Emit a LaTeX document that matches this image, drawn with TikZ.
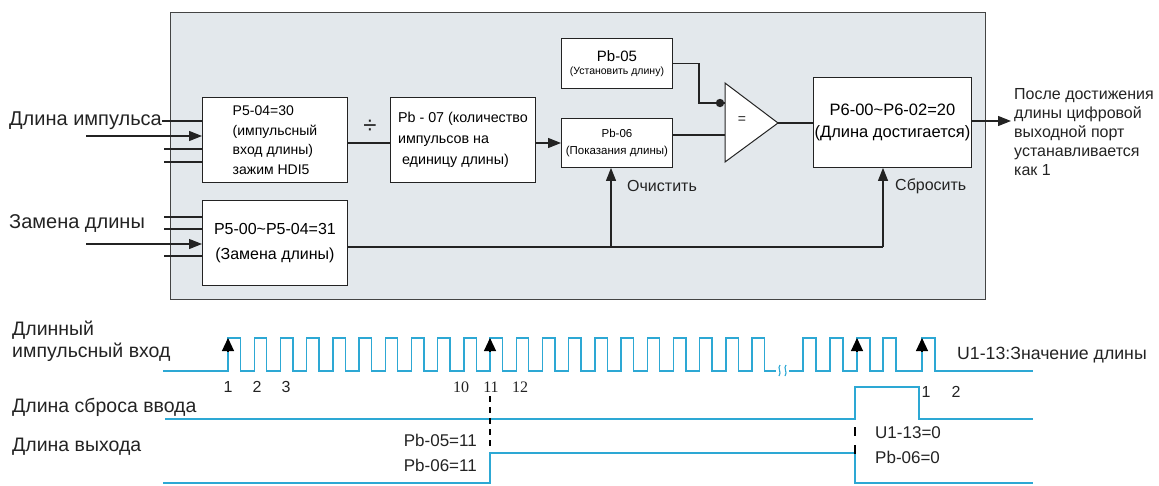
\documentclass[tikz,border=0pt]{standalone}
\usepackage{fontspec}
\setmainfont{Liberation Sans}
\newfontfamily\serifnum{Liberation Serif}
\usetikzlibrary{arrows.meta}
\definecolor{panelfill}{RGB}{227,232,236}
\definecolor{ink}{RGB}{35,35,35}
\definecolor{wave}{RGB}{45,168,212}
\tikzset{
  blk/.style={draw=ink, line width=0.9pt, fill=white, inner sep=0pt, anchor=north west},
  conn/.style={draw=ink, line width=1.1pt},
  arr/.style={conn, -{Triangle[length=13pt,width=10pt]}},
  wv/.style={draw=wave, line width=1.4pt},
  edgearrow/.style={draw=black, line width=1.2pt, -{Triangle[length=13pt,width=12pt]}},
  biglbl/.style={font=\fontsize{20}{23}\selectfont, anchor=west, inner sep=0pt, text=ink},
  midlbl/.style={font=\fontsize{16}{19}\selectfont, anchor=west, inner sep=0pt, text=ink},
  numlbl/.style={font=\fontsize{16}{18}\selectfont, inner sep=0pt, text=ink},
  sernum/.style={font=\serifnum\fontsize{16}{18}\selectfont, inner sep=0pt, text=ink},
  cutmark/.style={draw=black, line width=2.4pt},
}
\begin{document}
\begin{tikzpicture}[x=1pt,y=-1pt]
\useasboundingbox (0,0) rectangle (1159,485);
% panel
\node[draw=ink!85, line width=1pt, fill=panelfill, minimum width=815pt, minimum height=287pt, anchor=north west, inner sep=0pt] (panel) at (170,12) {};
% boxes
\node[blk, minimum width=145pt, minimum height=85pt, align=left, font=\fontsize{14}{19.5}\selectfont] (p504) at (202,97)
  {P5-04=30\\(импульсный\\вход длины)\\зажим HDI5};
\node[blk, minimum width=145pt, minimum height=85pt, align=center, font=\fontsize{16}{25}\selectfont] (p500) at (202,200)
  {P5-00\textasciitilde P5-04=31\\(Замена длины)};
\node[blk, minimum width=145pt, minimum height=85pt, align=left, font=\fontsize{14.3}{21}\selectfont] (pb07) at (390,97)
  {Pb - 07 (количество\\импульсов на\\\hspace*{4pt}единицу длины)};
\node[blk, minimum width=111pt, minimum height=49pt, align=center, font=\fontsize{11.5}{17}\selectfont] (pb06) at (561,118)
  {Pb-06\\(Показания длины)};
\node[blk, minimum width=111pt, minimum height=50pt, align=center] (pb05) at (561,38)
  {{\fontsize{15}{19}\selectfont Pb-05}\\[1pt]{\fontsize{10.5}{12}\selectfont (Установить длину)}};
\node[blk, minimum width=158pt, minimum height=90pt, align=center, font=\fontsize{16.5}{22}\selectfont] (p6) at (813,77)
  {P6-00\textasciitilde P6-02=20\\(Длина достигается)};
% comparator
\coordinate (cmpTop) at (725,83);
\coordinate (cmpBot) at (725,162);
\coordinate (cmpOut) at (778,123);
\coordinate (cmpIn1) at (725,103);
\coordinate (cmpIn2) at (725,135);
\draw[draw=ink, line width=1pt, fill=white] (cmpTop) -- (cmpOut) -- (cmpBot) -- cycle;
\node[font=\fontsize{14}{16}\selectfont, text=ink] (eq) at (742,120) {=};
% labels
\node[biglbl] (lpulse) at (9,121) {Длина импульса};
\node[biglbl] (lchange) at (9,224) {Замена длины};
\node[font=\fontsize{24}{26}\selectfont, text=ink] (div) at (370,127) {÷};
\node[midlbl] (lclr) at (627,186) {Очистить};
\node[midlbl] (lrst) at (895,186) {Сбросить};
\node[anchor=north west, inner sep=0pt, align=left, font=\fontsize{16}{19}\selectfont, text=ink] (outtxt) at (1014,88)
  {После достижения\\длины цифровой\\выходной порт\\устанавливается\\как 1};
% input lines
\coordinate (inA1) at (lpulse.east);
\coordinate (inA2) at (86,136);
\coordinate (inA3) at (164,149);
\coordinate (inA4) at (164,162);
\draw[conn] (inA1) -- (inA1 -| p504.west);
\draw[arr] (inA2) -- (inA2 -| p504.west);
\draw[conn] (inA3) -- (inA3 -| p504.west);
\draw[conn] (inA4) -- (inA4 -| p504.west);
\coordinate (inB1) at (164,217);
\coordinate (inB2) at (164,229);
\coordinate (inB3) at (86,244);
\coordinate (inB4) at (164,256);
\draw[conn] (inB1) -- (inB1 -| p500.west);
\draw[conn] (inB2) -- (inB2 -| p500.west);
\draw[arr] (inB3) -- (inB3 -| p500.west);
\draw[conn] (inB4) -- (inB4 -| p500.west);
% internal connectors
\coordinate (divline) at (347,143);
\draw[conn] (divline) -- (divline -| pb07.west);
\coordinate (toPb06) at (535,143);
\draw[arr] (toPb06) -- (toPb06 -| pb06.west);
\coordinate (bend) at (699,103);
\draw[conn] (pb05.east) -| (bend) -- (cmpIn1);
\fill[ink] (720,103) circle (4.2pt);
\draw[conn] (cmpIn2 -| pb06.east) -- (cmpIn2);
\draw[conn] (cmpOut) -- (cmpOut -| p6.west);
\coordinate (outEnd) at (1011,121);
\draw[arr] (outEnd -| p6.east) -- (outEnd);
\coordinate (rstPt) at (883,247);
\coordinate (clrPt) at (611,247);
\draw[conn] (rstPt -| p500.east) -- (rstPt);
\draw[arr] (rstPt) -- (rstPt |- p6.south);
\draw[arr] (clrPt) -- (clrPt |- pb06.south);
% waveform labels
\node[biglbl, align=left, font=\fontsize{19.5}{22}\selectfont] (wl1) at (12,341) {Длинный\\импульсный вход};
\node[biglbl, font=\fontsize{19.5}{21}\selectfont] (wl2) at (12,407) {Длина сброса ввода};
\node[biglbl, font=\fontsize{19.5}{21}\selectfont] (wl3) at (12,447) {Длина выхода};
\node[biglbl, font=\fontsize{17.7}{21}\selectfont] (u113) at (957,355) {U1-13:Значение длины};
% pulse train
\draw[wv] (163,371) foreach \i in {0,...,20} { -- ({228+26.2*\i},371) -- ({228+26.2*\i},338) -- ({240.5+26.2*\i},338) -- ({240.5+26.2*\i},371) } -- (776,371);
\draw[wv, line width=1.1pt] (780,365) .. controls (777,368) and (782,372) .. (779,376);
\draw[wv, line width=1.1pt] (786,365) .. controls (783,368) and (788,372) .. (785,376);
\draw[wv] (789,371) foreach \x in {803,830,857,883,922} { -- (\x,371) -- (\x,338) -- ({\x+13},338) -- ({\x+13},371) } -- (1033,371);
% edge arrows
\coordinate (e1) at (228,338);
\coordinate (e11) at (490,338);
\coordinate (eA) at (857,338);
\coordinate (eB) at (922,338);
\foreach \c in {e1,e11,eA,eB} { \draw[edgearrow] ([yshift=-14pt]\c) -- (\c); }
% count labels
\node[numlbl] (n1) at (228,387) {1};
\node[numlbl] (n2) at (257,387) {2};
\node[numlbl] (n3) at (286,387) {3};
\node[sernum] (n10) at (461,387) {10};
\node[sernum] (n11) at (491,387) {11};
\node[sernum] (n12) at (520,387) {12};
\node[numlbl] (m1) at (926,392) {1};
\node[numlbl] (m2) at (956,392) {2};
% reset input
\draw[wv] (165,419) -- (855,419) -- (855,387) -- (919,387) -- (919,419) -- (1033,419);
% output
\draw[wv] (163,483) -- (490,483) -- (490,453) -- (855,453) -- (855,483) -- (1033,483);
% dashed markers
\draw[cutmark, dash pattern=on 6pt off 5pt] (490,396) -- (490,447);
\draw[cutmark, dash pattern=on 9pt off 9pt] (855,427) -- (855,456);
% value labels
\node[midlbl, anchor=east, font=\fontsize{17}{20}\selectfont] (v1) at (477,440) {Pb-05=11};
\node[midlbl, anchor=east, font=\fontsize{17}{20}\selectfont] (v2) at (477,465) {Pb-06=11};
\node[midlbl, font=\fontsize{17}{20}\selectfont] (v3) at (875,433) {U1-13=0};
\node[midlbl, font=\fontsize{17}{20}\selectfont] (v4) at (875,457) {Pb-06=0};
\end{tikzpicture}
\end{document}
